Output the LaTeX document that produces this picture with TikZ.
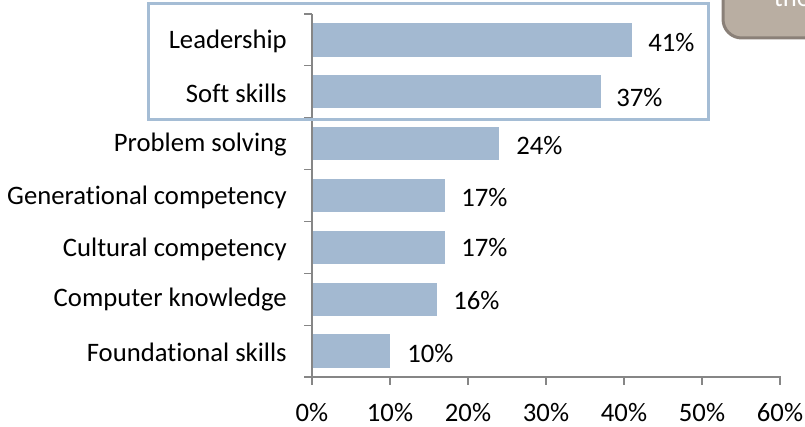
\documentclass[tikz,border=0pt]{standalone}
\usepackage{fontspec}
\setmainfont{Carlito}[Ligatures=NoCommon]
\usepackage{tikz}
\usepackage{color}
\definecolor{barblue}{HTML}{A3B9D1}
\definecolor{axisgray}{HTML}{868686}
\definecolor{boxblue}{HTML}{A5BDD5}
\definecolor{notefill}{HTML}{B9AEA2}
\definecolor{noteline}{HTML}{8A8078}

\begin{document}
\begin{tikzpicture}[x=0.75pt,y=-0.75pt,
  catlbl/.style={anchor=east,inner sep=0pt,font=\fontsize{20}{22}\selectfont},
  vallbl/.style={anchor=west,inner sep=0pt,font=\fontsize{20}{22}\selectfont},
  ticklbl/.style={anchor=center,inner sep=0pt,font=\fontsize{20}{22}\selectfont},
  bar/.style={fill=barblue,draw=none}]
\useasboundingbox (0,0) rectangle (805,427);
\clip (0,0) rectangle (805,427);
%% note box (cut off at the top right);
\draw[noteline, fill=notefill, line width=2.25pt, rounded corners=14pt] (723,-30) rectangle (840,38);
\node[white, font=\fontsize{20}{22}\selectfont] (note) at (792,-3) {the};
%% bars;
\fill[bar] (312,23.2) rectangle (632,56.6);
\fill[bar] (312,75.1) rectangle (600.6,108.5);
\fill[bar] (312,126.9) rectangle (499.2,160.3);
\fill[bar] (312,178.8) rectangle (444.6,212.2);
\fill[bar] (312,230.7) rectangle (444.6,264.1);
\fill[bar] (312,282.5) rectangle (436.8,315.9);
\fill[bar] (312,334.4) rectangle (390,367.8);
%% categories;
\node[catlbl] (leader) at (287,41) {Leadership};
\node[catlbl] (soft) at (287,93) {Soft skills};
\node[catlbl] (problem) at (287,145) {Problem solving};
\node[catlbl] (gener) at (287,197) {Generational competency};
\node[catlbl] (cultur) at (287,249) {Cultural competency};
\node[catlbl] (comput) at (287,300) {Computer knowledge};
\node[catlbl] (found) at (287,352) {Foundational skills};
%% values;
\node[vallbl] (vleader) at (648,43) {41\%};
\node[vallbl] (vsoft) at (616,98) {37\%};
\node[vallbl] (vproblem) at (516,146) {24\%};
\node[vallbl] (vgener) at (461,198) {17\%};
\node[vallbl] (vcultur) at (461,248) {17\%};
\node[vallbl] (vcomput) at (453,301) {16\%};
\node[vallbl] (vfound) at (407,354) {10\%};
%% axes;
\draw[axisgray, line width=0.9pt] (312,14) -- (312,385);
\draw[axisgray, line width=0.9pt] (304,377) -- (780.5,377);
\draw[axisgray, line width=0.9pt] (304,14) -- (312,14);
\draw[axisgray, line width=0.9pt] (304,65.9) -- (312,65.9);
\draw[axisgray, line width=0.9pt] (304,117.7) -- (312,117.7);
\draw[axisgray, line width=0.9pt] (304,169.6) -- (312,169.6);
\draw[axisgray, line width=0.9pt] (304,221.4) -- (312,221.4);
\draw[axisgray, line width=0.9pt] (304,273.3) -- (312,273.3);
\draw[axisgray, line width=0.9pt] (304,325.1) -- (312,325.1);
\draw[axisgray, line width=0.9pt] (390,377) -- (390,385);
\draw[axisgray, line width=0.9pt] (468,377) -- (468,385);
\draw[axisgray, line width=0.9pt] (546,377) -- (546,385);
\draw[axisgray, line width=0.9pt] (624,377) -- (624,385);
\draw[axisgray, line width=0.9pt] (702,377) -- (702,385);
\draw[axisgray, line width=0.9pt] (780,377) -- (780,385);
\node[ticklbl] (t0) at (312,413) {0\%};
\node[ticklbl] (t10) at (390,413) {10\%};
\node[ticklbl] (t20) at (468,413) {20\%};
\node[ticklbl] (t30) at (546,413) {30\%};
\node[ticklbl] (t40) at (624,413) {40\%};
\node[ticklbl] (t50) at (702,413) {50\%};
\node[ticklbl] (t60) at (780,413) {60\%};
%% highlight box;
\draw[boxblue, line width=2.25pt] (148,4) rectangle (708,120);
\end{tikzpicture}
\end{document}
